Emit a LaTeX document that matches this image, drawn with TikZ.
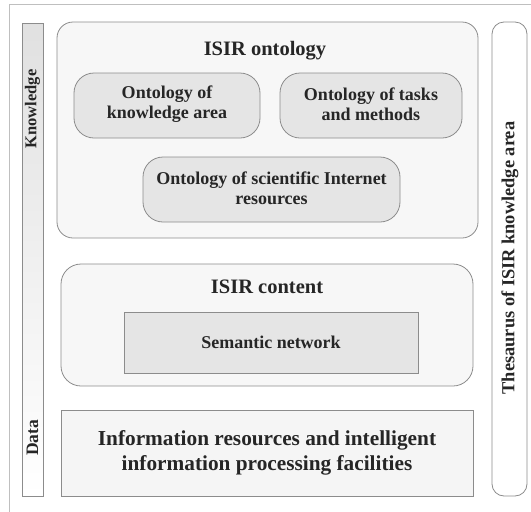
\documentclass[tikz,border=0pt]{standalone}
\usepackage{fontspec}
\setmainfont{Liberation Serif}
\begin{document}
\begin{tikzpicture}[x=1pt,y=-1pt,
  edge/.style={draw=black!45, line width=0.8pt},
  bigbox/.style={edge, fill=black!3, rounded corners=16pt},
  subbox/.style={edge, fill=black!10, rounded corners=20pt},
  txt/.style={font=\bfseries, align=center, text=black!85, inner sep=0pt}
]
\useasboundingbox (0,0) rectangle (531,512);
% outer frame (top and left edges)
\draw[black!25, line width=1.3pt] (531,4.5) -- (9.5,4.5) -- (9.5,512);
% left layer bar
\shade[top color=black!12, bottom color=white, draw=black!45, line width=0.8pt] (22,23) rectangle (43,496);
\node[txt, rotate=90, font=\bfseries\fontsize{16.5}{19}\selectfont] (know) at (32.5,109) {Knowledge};
\node[txt, rotate=90, font=\bfseries\fontsize{17.5}{19}\selectfont] (data) at (32.5,438) {Data};
% ISIR ontology
\path[bigbox] (57,22) rectangle (478,238);
\node[txt, anchor=base, font=\bfseries\fontsize{20.5}{24}\selectfont] (onto) at (265,55) {ISIR ontology};
\path[subbox] (74,73) rectangle (260,138);
\node[txt, font=\bfseries\fontsize{18}{20}\selectfont] (oka) at (167,104.5) {Ontology of\\knowledge area};
\path[subbox] (280,73) rectangle (462,138);
\node[txt, font=\bfseries\fontsize{18}{20}\selectfont] (otm) at (371,104.5) {Ontology of tasks\\and methods};
\path[subbox] (143,157) rectangle (400,222);
\node[txt, font=\bfseries\fontsize{18}{20}\selectfont] (osr) at (271.5,188.5) {Ontology of scientific Internet\\resources};
% ISIR content
\path[bigbox, rounded corners=20pt] (61,264) rectangle (473,386);
\node[txt, anchor=base, font=\bfseries\fontsize{20.5}{24}\selectfont] (cont) at (267,293) {ISIR content};
\path[edge, fill=black!10] (124,312) rectangle (418,373);
\node[txt, font=\bfseries\fontsize{18}{20}\selectfont] (sem) at (271,342) {Semantic network};
% Information resources
\path[edge, fill=black!4] (61,410) rectangle (473,496);
\node[txt, font=\bfseries\fontsize{21.3}{25}\selectfont] (info) at (267,453) {Information resources and intelligent\\information processing facilities};
% Thesaurus bar
\path[edge, fill=white, rounded corners=12pt] (492,22) rectangle (527,496);
\node[txt, rotate=90, font=\bfseries\fontsize{18.4}{20}\selectfont] (thes) at (510,258) {Thesaurus of ISIR knowledge area};
\end{tikzpicture}
\end{document}
